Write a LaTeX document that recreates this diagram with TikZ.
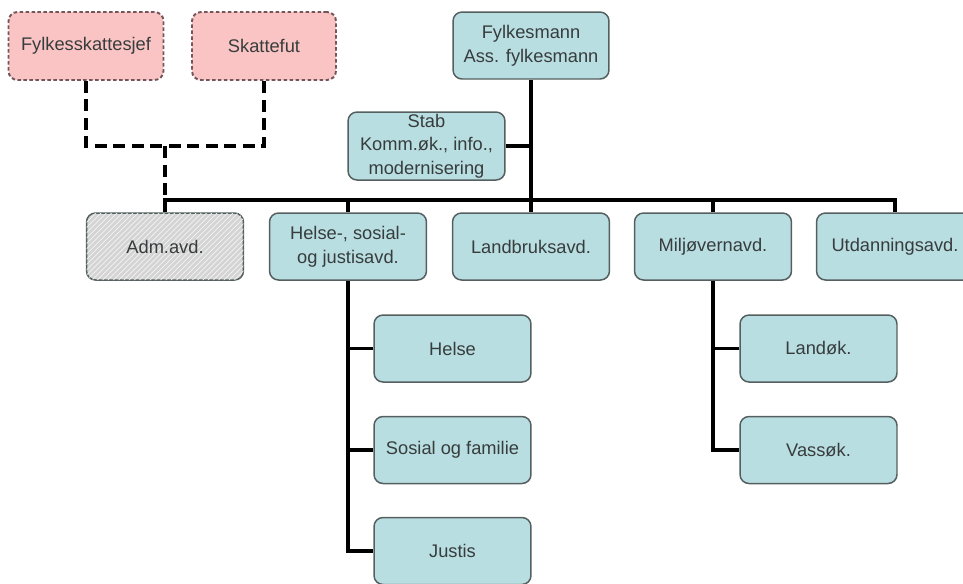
\documentclass[tikz,border=0pt]{standalone}
\usepackage{fontspec}
\setmainfont{Liberation Sans}
\usetikzlibrary{patterns}
\tikzset{>=latex}

\definecolor{unitfill}{RGB}{185,222,226}
\definecolor{unitdraw}{RGB}{85,95,95}
\definecolor{taxfill}{RGB}{250,196,196}
\definecolor{taxdraw}{RGB}{115,85,90}
\definecolor{admfill}{RGB}{212,212,212}
\definecolor{textgray}{RGB}{55,60,60}

\tikzset{
    unit/.style={draw=unitdraw, line width=0.85pt, fill=unitfill, rounded corners=0.18cm,
        minimum width=3.14cm, minimum height=1.34cm, inner sep=1pt, align=center,
        text=textgray, font=\fontsize{10.4}{13.5}\selectfont},
    taxunit/.style={unit, fill=taxfill, draw=taxdraw, line width=1.1pt, dash pattern=on 2pt off 1.4pt},
    admunit/.style={unit, fill=admfill, postaction={pattern=north east lines, pattern color=white!75!admfill}},
    tree/.style={black, line width=1.9pt, line join=miter},
    taxlink/.style={black, line width=1.9pt, dash pattern=on 0.24cm off 0.13cm}
}

\begin{document}
\begin{tikzpicture}[x=0.02cm, y=-0.02cm]
    \clip (0,0) rectangle (963,583);

    \node[taxunit, minimum width=3.1cm, minimum height=1.36cm] (fsj) at (86,46) {Fylkesskattesjef};
    \node[taxunit, minimum width=2.88cm, minimum height=1.36cm] (skf) at (264,46) {Skattefut};

    \node[unit, minimum width=3.12cm] (fm) at (531,45.5) {Fylkesmann\\Ass. fylkesmann};
    \node[unit, minimum height=1.36cm] (stab) at (426.5,146) {Stab\\Komm.øk., info.,\\modernisering};

    \node[admunit] (adm) at (165,246.5) {Adm.avd.};
    \node[unit] (hs) at (348,246.5) {Helse-, sosial-\\og justisavd.};
    \node[unit] (lb) at (531,246.5) {Landbruksavd.};
    \node[unit] (mv) at (713,246.5) {Miljøvernavd.};
    \node[unit] (utd) at (895,246.5) {Utdanningsavd.};

    \node[unit] (helse) at (452.5,348.5) {Helse};
    \node[unit] (sos) at (452.5,450) {Sosial og familie};
    \node[unit] (jus) at (452.5,551) {Justis};

    \node[unit] (land) at (818.5,348.5) {Landøk.};
    \node[unit] (vass) at (818.5,450) {Vassøk.};

    \coordinate (bus) at (531,200);
    \coordinate (taxjoin) at (165,146);

    \draw[tree] (fm) -- (lb);
    \draw[tree] (stab) -- (stab -| fm);
    \draw[tree] (adm) |- (bus) -| (utd);
    \foreach \d in {hs, mv}
        \draw[tree] (\d) -- (\d |- bus);

    \draw[tree] (hs) |- (jus);
    \foreach \s in {helse, sos}
        \draw[tree] (\s) -- (\s -| hs);

    \draw[tree] (mv) |- (vass);
    \draw[tree] (land) -- (land -| mv);

    \draw[taxlink] (fsj) |- (taxjoin) -| (skf);
    \draw[taxlink] (taxjoin) -- (taxjoin |- bus);
\end{tikzpicture}
\end{document}
